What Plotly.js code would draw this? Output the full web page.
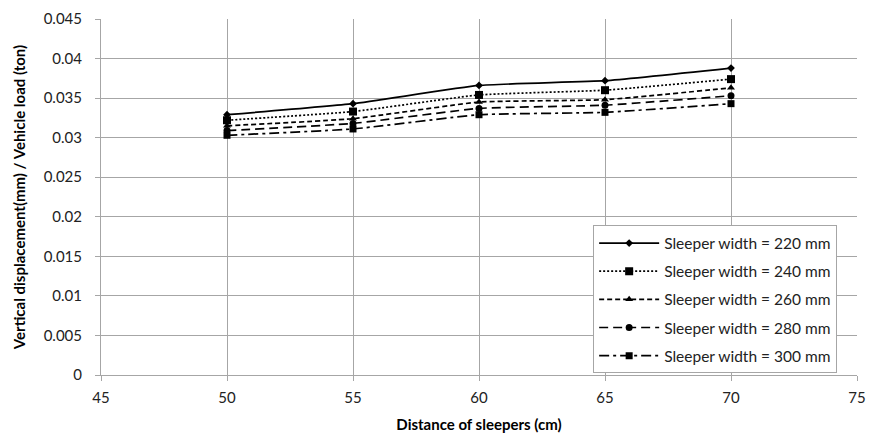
<!DOCTYPE html>
<html>
<head>
<meta charset="utf-8">
<script src="https://cdn.plot.ly/plotly-3.0.1.min.js"></script>
<style>html,body{margin:0;padding:0;background:#fff;}#chart{width:869px;height:437px;}</style>
</head>
<body>
<div id="chart"></div>
<script>
const distances = [50, 55, 60, 65, 70];
const seriesNames = ["Sleeper width = 220 mm", "Sleeper width = 240 mm", "Sleeper width = 260 mm", "Sleeper width = 280 mm", "Sleeper width = 300 mm"];
const w220 = [0.0329, 0.0343, 0.0366, 0.0372, 0.0388];
const w240 = [0.0322, 0.0333, 0.0354, 0.0360, 0.0374];
const w260 = [0.0315, 0.0324, 0.0345, 0.0348, 0.0363];
const w280 = [0.0309, 0.0318, 0.0337, 0.0341, 0.0353];
const w300 = [0.0303, 0.0311, 0.0329, 0.0332, 0.0343];
const xTicks = [45, 50, 55, 60, 65, 70, 75];
const yTicks = [0, 0.005, 0.01, 0.015, 0.02, 0.025, 0.03, 0.035, 0.04, 0.045];
const yTickText = ["0", "0.005", "0.01", "0.015", "0.02", "0.025", "0.03", "0.035", "0.04", "0.045"];

const values = [w220, w240, w260, w280, w300];
const dashes = ["solid", "2px,2px", "5px,3px", "9px,5px", "10px,4px,3px,4px"];
const symbols = ["diamond", "square", "triangle-up", "circle", "square"];
const sizes = [6, 8, 7, 7, 7];

const traces = values.map((v, i) => ({
  x: distances, y: v, name: seriesNames[i], type: "scatter", mode: "lines+markers",
  line: {color: "#000", width: 1.7, dash: dashes[i], shape: "spline", smoothing: 0.4},
  marker: {color: "#000", symbol: symbols[i], size: sizes[i]},
  legendgroup: "g" + i
}));

const font = "Lato, 'Open Sans', sans-serif";
const layout = {
  width: 869, height: 437,
  margin: {l: 101, r: 12, t: 19, b: 62},
  paper_bgcolor: "#fff", plot_bgcolor: "#fff",
  font: {family: font, size: 15, color: "#222"},
  showlegend: true,
  legend: {
    x: 0.651, y: 0.42, xanchor: "left", yanchor: "top",
    bordercolor: "#a6a6a6", borderwidth: 1, bgcolor: "#fff",
    font: {family: font, size: 15.5, color: "#222"},
    tracegroupgap: 5, itemwidth: 60
  },
  xaxis: {
    range: [45, 75], tickvals: xTicks, ticktext: xTicks.map(String),
    showgrid: true, gridcolor: "#a6a6a6", gridwidth: 1,
    showline: true, linecolor: "#a6a6a6", linewidth: 1,
    ticks: "outside", ticklen: 5, tickcolor: "#a6a6a6",
    zeroline: false, mirror: false,
    tickfont: {family: font, size: 15, color: "#222"},
    ticklabelstandoff: 4,
    title: {text: "<b>Distance of sleepers (cm)</b>", font: {family: font, size: 15, color: "#000"}, standoff: 14}
  },
  yaxis: {
    range: [0, 0.045], tickvals: yTicks, ticktext: yTickText,
    showgrid: true, gridcolor: "#a6a6a6", gridwidth: 1,
    showline: true, linecolor: "#a6a6a6", linewidth: 1,
    ticks: "outside", ticklen: 5, tickcolor: "#a6a6a6",
    zeroline: false,
    tickfont: {family: font, size: 15, color: "#222"},
    ticklabelstandoff: 10,
    title: {text: "<b>Vertical displacement(mm) / Vehicle load (ton)</b>", font: {family: font, size: 15, color: "#000"}, standoff: 14}
  }
};
Plotly.newPlot("chart", traces, layout, {displayModeBar: false, staticPlot: true});
</script>
</body>
</html>
